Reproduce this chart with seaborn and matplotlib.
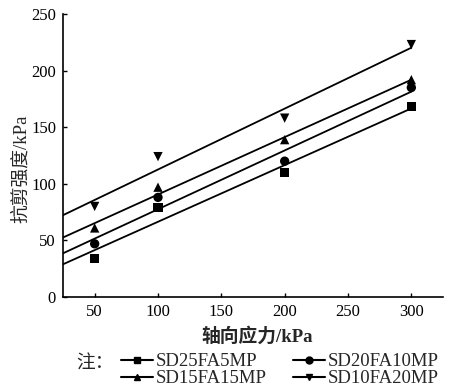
import numpy as np
import pandas as pd
import matplotlib
matplotlib.use("Agg")
import matplotlib.pyplot as plt
from matplotlib.lines import Line2D
import seaborn as sns

# Axial stress levels (kPa) and measured shear strength (kPa) per mix
axial_stress = [50, 100, 200, 300]
sd25fa5mp = [34, 79, 110, 168]
sd20fa10mp = [47, 88, 120, 185]
sd15fa15mp = [61, 97, 139, 192]
sd10fa20mp = [80, 124, 158, 223]

series_names = ["SD25FA5MP", "SD20FA10MP", "SD15FA15MP", "SD10FA20MP"]
series_values = [sd25fa5mp, sd20fa10mp, sd15fa15mp, sd10fa20mp]
series_markers = ["s", "o", "^", "v"]

x_ticks = [50, 100, 150, 200, 250, 300]
y_ticks = [0, 50, 100, 150, 200, 250]

sns.set_theme(style="ticks")
plt.rcParams["font.family"] = ["Liberation Serif", "Noto Sans CJK SC"]
plt.rcParams["axes.unicode_minus"] = False

rows = []
for name, vals in zip(series_names, series_values):
    for x, y in zip(axial_stress, vals):
        rows.append({"stress": x, "strength": y, "mix": name})
df = pd.DataFrame(rows)

fig = plt.figure(figsize=(4.5, 3.92), dpi=100)
ax = fig.add_axes([63 / 450, 1 - 297 / 392, 380 / 450, 283 / 392])

# Linear fit for each mix, drawn from the left edge to the last load level
x_lo, x_hi = 25, 300
for name, vals in zip(series_names, series_values):
    k, b = np.polyfit(axial_stress, vals, 1)
    xs = np.array([x_lo, x_hi])
    sns.lineplot(x=xs, y=k * xs + b, ax=ax, color="black", lw=1.3,
                 legend=False)

sns.scatterplot(data=df, x="stress", y="strength", style="mix",
                markers=dict(zip(series_names, series_markers)),
                color="black", s=45, edgecolor="none", ax=ax, legend=False,
                zorder=3)

ax.set_xlim(25, 325)
ax.set_ylim(0, 250)
ax.set_xticks(x_ticks)
ax.set_yticks(y_ticks)
ax.tick_params(direction="in", length=3, width=1, labelsize=12,
               colors="black", pad=5)
for side in ["top", "right"]:
    ax.spines[side].set_visible(False)
for side in ["left", "bottom"]:
    ax.spines[side].set_linewidth(1.2)
    ax.spines[side].set_color("black")

ax.set_xlabel("轴向应力/kPa", fontsize=13.5, fontweight="bold")
ax.xaxis.set_label_coords(0.51, -(327 - 297) / 283)
ax.set_ylabel("抗剪强度/kPa", fontsize=13.5)
ax.yaxis.set_label_coords(-(63 - 30) / 380, (297 - 169) / 283)

# Legend: two columns, filled row by row
order = [0, 2, 1, 3]
handles = [Line2D([0], [0], color="black", lw=1.5, marker=series_markers[i],
                  markersize=5) for i in order]
labels = [series_names[i] for i in order]
fig.legend(handles, labels, loc="upper left", ncol=2,
           bbox_to_anchor=(121 / 450, 1 - 353 / 392), frameon=False,
           fontsize=13.5, handlelength=1.7, handletextpad=0.15,
           columnspacing=1.4, labelspacing=0.0, borderaxespad=0,
           borderpad=0)
fig.text(76 / 450, 1 - 364 / 392, "注：", fontsize=13.5, va="center",
         ha="left")

fig.savefig("out.png", dpi=100, facecolor="white")
